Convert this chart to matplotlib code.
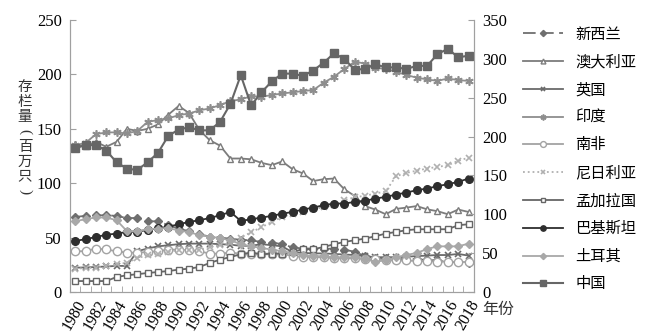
import matplotlib
matplotlib.use("Agg")
import matplotlib.pyplot as plt

plt.rcParams['font.family'] = ['Liberation Serif', 'Noto Sans CJK SC']

years = list(range(1980, 2019))

# 左轴（百万只）
nz = [69, 70, 70.5, 70.5, 70, 68, 68, 65, 65, 61.5, 58, 56, 53, 51, 50, 49, 48, 47.5, 46, 45.5,
      44, 41, 40, 40, 39.5, 40, 39, 37, 33, 31.5, 31, 30, 30.5, 30, 29.5, 29, 27.5, 27.5, 27]
australia = [136, 134, 138, 133.5, 138, 150, 148, 150, 154, 163, 171, 164.5, 149, 139.5, 134.5, 122.7, 122.7, 122, 118.7, 116.6,
             120, 112.9, 109, 102, 103.7, 104.3, 94.5, 88.3, 79, 75.8, 71.5, 76.4, 77.6, 79, 76, 74.3, 71.5, 75.8, 73.6]
uk = [22.4, 22.6, 23, 23.5, 24, 24, 37.5, 40, 42, 43, 44, 44.5, 44.5, 44.5, 44, 43.5, 42.5, 42.5, 44, 43,
      42, 36.5, 36, 35.5, 35.5, 35, 34.5, 34, 33, 32, 32, 32, 32.5, 33, 33.5, 34, 34, 35, 33.5]
india = [135, 137, 145, 146.7, 146.7, 145.7, 148, 156.4, 158, 159.5, 162.6, 164, 167, 168.7, 171.8, 175.5, 177, 180, 179.5, 181,
         182.5, 183.5, 184.7, 185.6, 192.3, 197.8, 205, 211.6, 210, 206, 205, 202.4, 199.4, 197, 195.4, 194, 196.3, 194.7, 194]
south_africa = [37.5, 37.5, 40, 39.1, 37.5, 36.2, 36.2, 36.8, 37.5, 39, 39, 38.4, 37.5, 35.3, 35.3, 36.2, 35.3, 35.3, 35.3, 35.3,
                35.3, 33, 32.2, 32.2, 32, 31, 31, 31, 30.5, 30, 29.5, 29, 29, 28.5, 28.5, 28, 28, 27.6, 27.6]
nigeria = [21.5, 22, 22.5, 23.5, 25.5, 27, 31, 34, 35, 37, 38.5, 38.5, 39, 41, 43, 45, 50, 55, 59.5, 64.5,
           69, 72, 74, 76, 78, 80, 84.5, 87, 88.5, 90.5, 92.5, 106.5, 109.5, 111.5, 113.5, 115, 116.5, 120.5, 123.5]
bangladesh = [10.1, 10.1, 10.1, 10.1, 13.8, 15.4, 16.4, 17.5, 18.4, 19.3, 20.6, 21.5, 23, 26.7, 29.8, 32.2, 34.7, 36.2, 34.7, 35.3,
              35.3, 37, 39.3, 39.3, 41.4, 43.9, 46, 47.6, 49.1, 51.3, 53.7, 55.2, 56.8, 57.7, 57.7, 57.7, 57.7, 61.4, 62.3]
pakistan = [47, 48.5, 50.6, 52.6, 53.7, 55.2, 55.5, 57, 58.6, 60, 62.3, 64.4, 66, 68, 70.6, 73.6, 65.3, 66.9, 68.4, 70,
            72, 73.6, 75.8, 77.6, 79.8, 81.3, 81.3, 82.8, 83.8, 85.9, 87.4, 89.6, 91.4, 93.6, 95.1, 97.3, 99.1, 101.2, 104.3]
turkey = [65, 67, 68.5, 68.5, 66, 56, 56, 57.7, 58.3, 58.9, 56.5, 55.2, 52.2, 51, 49.5, 47.5, 44, 42, 40.5, 39,
          37.5, 35.5, 34, 33, 33, 32, 32, 32, 30, 28, 29, 32, 34, 36, 39.5, 42, 42, 42, 44.5]
# 右轴（百万只）
china = [185, 189, 189, 182, 167, 158.7, 157, 167, 179, 201, 209, 212, 208, 208, 219, 242, 279, 240, 257, 271,
         281, 281, 278, 285, 295, 307, 300, 286, 287, 293, 289, 289, 287, 291, 291, 306, 313, 302, 304]

fig = plt.figure(figsize=(6.48, 3.33), dpi=100)
ax = fig.add_axes([0.108, 0.123, 0.623, 0.817])
ax2 = ax.twinx()

x = list(range(len(years)))
lw = 1.3
ms = 5

ax.plot(x, nz, color='#6f6f6f', lw=lw, dashes=(7, 3), marker='D', ms=4.5, label='新西兰')
ax.plot(x, australia, color='#7c7c7c', lw=lw, marker='^', ms=ms, mfc='white', mew=1, label='澳大利亚')
ax.plot(x, uk, color='#6a6a6a', lw=lw, marker='x', ms=ms, mew=1.2, label='英国')
ax.plot(x, india, color='#8e8e8e', lw=lw, marker=(6, 2, 0), ms=6, mew=1.2, label='印度')
ax.plot(x, south_africa, color='#a3a3a3', lw=lw, marker='o', ms=ms + 1, mfc='white', mew=1, label='南非')
ax.plot(x, nigeria, color='#b0b0b0', lw=lw, ls=':', marker='x', ms=ms, mew=1.2, label='尼日利亚')
ax.plot(x, bangladesh, color='#666666', lw=lw, marker='s', ms=ms, mfc='white', mew=1, label='孟加拉国')
ax.plot(x, pakistan, color='#2e2e2e', lw=lw, marker='o', ms=ms + 0.5, label='巴基斯坦')
ax.plot(x, turkey, color='#a8a8a8', lw=lw, marker='D', ms=4.5, label='土耳其')
ax2.plot(x, china, color='#666666', lw=lw + 0.2, marker='s', ms=ms + 0.5, label='中国')

ax.set_ylim(0, 250)
ax2.set_ylim(0, 350)
ax.set_xlim(-0.4, len(years) - 0.55)
ax.set_yticks(range(0, 251, 50))
ax2.set_yticks(range(0, 351, 50))

ax.set_xticks(x[::2])
ax.set_xticklabels([str(y) for y in years[::2]], rotation=60, ha='right', rotation_mode='anchor')
ax.set_xticks([i + 0.5 for i in range(-1, len(years))], minor=True)
ax.tick_params(axis='x', which='major', length=0, pad=4, labelsize=11.5)
ax.tick_params(axis='x', which='minor', length=4, direction='in', color='#a0a0a0')
ax.tick_params(axis='y', length=4, direction='in', color='#a0a0a0', labelsize=12, pad=6)
ax2.tick_params(axis='y', length=4, direction='in', color='#a0a0a0', labelsize=12, pad=6)

for a in (ax, ax2):
    a.spines['top'].set_visible(False)
    for s in ('left', 'right', 'bottom'):
        a.spines[s].set_color('#a0a0a0')

# 竖排纵轴标题
ylabel_chars = ['存', '栏', '量', '(', '百', '万', '只', ')']
for k, ch in enumerate(ylabel_chars):
    ypx = 86.5 + 15 * k
    if ch in '()':
        fig.text(25 / 648, 1 - ypx / 333, ch, fontsize=11, ha='center', va='center', rotation=-90,
                 family='Liberation Serif', color='#333333')
    else:
        fig.text(25 / 648, 1 - ypx / 333, ch, fontsize=10.5, ha='center', va='center',
                 family='Noto Sans CJK SC', color='#333333')
fig.text(0.744, 0.07, "年份", fontsize=11.5, ha='left', va='center', color='#333333')

h1, l1 = ax.get_legend_handles_labels()
h2, l2 = ax2.get_legend_handles_labels()
fig.legend(h1 + h2, l1 + l2, loc='upper left', bbox_to_anchor=(0.786, 0.957), frameon=False,
           fontsize=11, labelspacing=0.88, handlelength=2.6, handletextpad=0.8, markerscale=0.7)

fig.savefig("out.png", dpi=100)
